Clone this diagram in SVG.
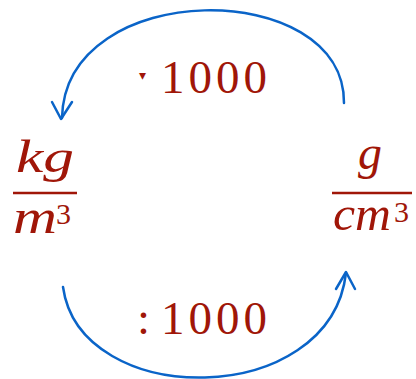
<svg xmlns="http://www.w3.org/2000/svg" width="416" height="379" viewBox="0 0 416 379">
<style>
.t{font-family:"Liberation Serif","DejaVu Serif",serif;fill:#a01608}
.i{font-style:italic}
.bar{stroke:#a01608;stroke-width:2.5}
.c{fill:none;stroke:#0a64c8;stroke-width:2.5;stroke-linecap:round;stroke-linejoin:round}
</style>
<rect width="416" height="379" fill="#fff"/>
<g id="connectors">
<path class="c" d="M344,103 C345,-23 65,-23 62,118"/>
<polyline class="c" points="52,102 61,119 72,102"/>
<path class="c" d="M63,287 C80,410 330,410 346,273"/>
<polyline class="c" points="336,289 346,272 355,289"/>
</g>
<g id="label-top">
<text class="t" x="139" y="80" font-size="14" font-family="DejaVu Sans">▾</text>
<text class="t" x="161" y="93" font-size="47" textLength="106" lengthAdjust="spacing">1000</text>
</g>
<g id="label-bottom">
<text class="t" x="137" y="334" font-size="47">:</text>
<text class="t" x="161" y="334" font-size="47" textLength="106" lengthAdjust="spacing">1000</text>
</g>
<g id="node-kg-m3">
<text class="t i" x="16" y="172" font-size="47" textLength="58" lengthAdjust="spacingAndGlyphs">kg</text>
<line class="bar" x1="13" y1="193" x2="77" y2="193"/>
<text class="t i" x="13" y="233" font-size="48" textLength="44" lengthAdjust="spacingAndGlyphs">m</text>
<text class="t" x="56" y="224" font-size="30">3</text>
</g>
<g id="node-g-cm3">
<text class="t i" x="370" y="169" font-size="48" text-anchor="middle">g</text>
<line class="bar" x1="332" y1="193" x2="412" y2="193"/>
<text class="t i" x="333" y="230" font-size="48" textLength="58" lengthAdjust="spacingAndGlyphs">cm</text>
<text class="t" x="394" y="222" font-size="30">3</text>
</g>
</svg>
